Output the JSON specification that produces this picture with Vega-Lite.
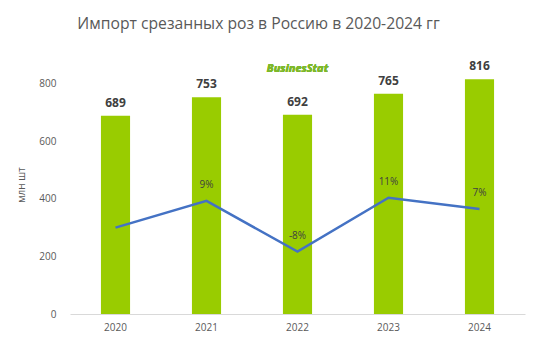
{
  "$schema": "https://vega.github.io/schema/vega-lite/v6.json",
  "width": 455,
  "height": 259,
  "autosize": {"type": "none"},
  "padding": {"left": 70, "top": 55, "right": 18, "bottom": 39},
  "background": "white",
  "config": {"view": {"stroke": null}, "font": "Liberation Sans"},
  "title": {
    "text": "Импорт срезанных роз в Россию в 2020-2024 гг",
    "font": "Open Sans",
    "fontSize": 15.7,
    "fontWeight": "normal",
    "color": "#595959",
    "anchor": "middle",
    "dx": -39,
    "offset": 22
  },
  "data": {
    "values": [
      {"year": "2020", "value": 689, "growth": 0.0, "growth_label": ""},
      {"year": "2021", "value": 753, "growth": 0.093, "growth_label": "9%"},
      {"year": "2022", "value": 692, "growth": -0.083, "growth_label": "-8%"},
      {"year": "2023", "value": 765, "growth": 0.104, "growth_label": "11%"},
      {"year": "2024", "value": 816, "growth": 0.065, "growth_label": "7%"}
    ]
  },
  "encoding": {
    "x": {
      "field": "year",
      "type": "nominal",
      "scale": {"paddingInner": 0.68, "paddingOuter": 0.34},
      "axis": {
        "title": null,
        "labelAngle": 0,
        "labelFont": "Open Sans",
        "labelFontSize": 10,
        "labelColor": "#595959",
        "labelPadding": 8,
        "ticks": false,
        "domainColor": "#D9D9D9",
        "domainWidth": 1
      }
    }
  },
  "layer": [
    {
      "layer": [
        {
          "mark": {"type": "bar", "color": "#99CC00"},
          "encoding": {
            "y": {
              "field": "value",
              "type": "quantitative",
              "scale": {"domain": [0, 900], "nice": false},
              "axis": {
                "title": "млн  шт",
                "titleFont": "Open Sans",
                "titleFontSize": 10,
                "titleFontWeight": "normal",
                "titleColor": "#595959",
                "titlePadding": 12,
                "values": [0, 200, 400, 600, 800],
                "labelFont": "Open Sans",
                "labelFontSize": 10,
                "labelColor": "#595959",
                "labelPadding": 14,
                "ticks": false,
                "domain": false,
                "grid": false
              }
            }
          }
        },
        {
          "mark": {"type": "text", "fontWeight": "bold", "fontSize": 12, "font": "Open Sans", "color": "#404040", "baseline": "middle", "dy": -13},
          "encoding": {
            "y": {"field": "value", "type": "quantitative"},
            "text": {"field": "value", "type": "quantitative"}
          }
        },
        {
          "mark": {"type": "text", "text": "BusinesStat", "font": "Open Sans", "fontSize": 11, "fontWeight": "bold", "fontStyle": "italic", "color": "#7DB829", "baseline": "middle"},
          "encoding": {
            "x": {"datum": "2022"},
            "y": {"datum": 850}
          }
        }
      ]
    },
    {
      "layer": [
        {
          "mark": {"type": "line", "color": "#4472C4", "strokeWidth": 2.5},
          "encoding": {
            "y": {
              "field": "growth",
              "type": "quantitative",
              "scale": {"domain": [-0.3, 0.6], "nice": false},
              "axis": null
            }
          }
        },
        {
          "mark": {"type": "text", "font": "Open Sans", "fontSize": 10, "color": "#404040", "baseline": "middle", "dy": -16},
          "encoding": {
            "y": {"field": "growth", "type": "quantitative"},
            "text": {"field": "growth_label"}
          }
        }
      ]
    }
  ],
  "resolve": {"scale": {"y": "independent"}}
}
